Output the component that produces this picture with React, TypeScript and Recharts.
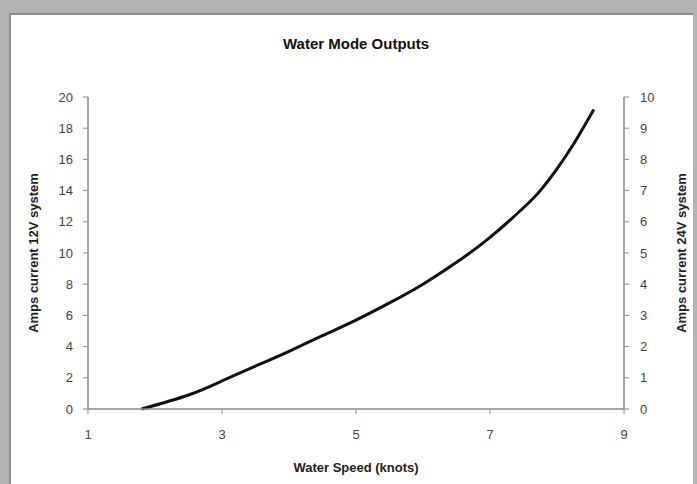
import React from 'react'
import { LineChart, Line, XAxis, YAxis } from 'recharts'

// ── Data ──────────────────────────────────────────────────────────────────────

const waterSpeed = [1.8, 2.5, 3.0, 3.5, 4.0, 4.5, 5.0, 5.5, 6.0, 6.5, 7.0, 7.5, 7.75, 8.0, 8.25, 8.55]
const amps12V = [0, 0.9, 1.8, 2.75, 3.7, 4.7, 5.7, 6.8, 8.0, 9.4, 11.0, 12.9, 14.0, 15.4, 17.0, 19.2]

const xTicks = [1, 3, 5, 7, 9]
const leftTicks = [0, 2, 4, 6, 8, 10, 12, 14, 16, 18, 20]
const rightTicks = [0, 1, 2, 3, 4, 5, 6, 7, 8, 9, 10]

const data = waterSpeed.map((speed, i) => ({ speed, amps: amps12V[i] }))

const FONT = '"Liberation Sans", Arial, sans-serif'
const AXIS = '#8a8a8a'
const TICK = { fontSize: 13, fill: '#444', fontFamily: FONT }

// ── Axis titles ───────────────────────────────────────────────────────────────

function SideTitle({ viewBox, value, posX }: { viewBox?: any; value: string; posX: number }) {
  const cy = (viewBox?.y ?? 0) + (viewBox?.height ?? 0) / 2
  return (
    <text x={posX} y={cy} transform={`rotate(-90 ${posX} ${cy})`} textAnchor="middle" dominantBaseline="central"
      style={{ fontSize: 13, fontWeight: 700, fill: '#222', fontFamily: FONT }}>
      {value}
    </text>
  )
}

function BottomTitle({ viewBox, value }: { viewBox?: any; value: string }) {
  const cx = (viewBox?.x ?? 0) + (viewBox?.width ?? 0) / 2
  return (
    <text x={cx} y={467} textAnchor="middle" dominantBaseline="central"
      style={{ fontSize: 13, fontWeight: 700, fill: '#222', fontFamily: FONT }}>
      {value}
    </text>
  )
}

// ── Component ─────────────────────────────────────────────────────────────────

export default function App() {
  return (
    <div style={{ position: 'absolute', left: 0, top: 0, width: 697, height: 484, background: '#b3b3b3', overflow: 'hidden', fontFamily: FONT }}>
      <div style={{ position: 'absolute', left: 9, top: 13, width: 682, height: 480, background: '#fff', borderLeft: '2px solid #8c8c8c', borderTop: '2px solid #8c8c8c' }} />
      <div style={{ position: 'absolute', left: 256, top: 35, width: 200, textAlign: 'center', fontSize: 15, fontWeight: 700, color: '#111' }}>
        Water Mode Outputs
      </div>
      <LineChart width={697} height={484} data={data} margin={{ top: 97, right: 23, bottom: 25, left: 28 }}
        style={{ position: 'absolute', left: 0, top: 0 }}>
        <XAxis dataKey="speed" type="number" domain={[1, 9]} ticks={xTicks} allowDataOverflow
          tickSize={5} tickMargin={16} tick={TICK} height={50}
          axisLine={{ stroke: AXIS, strokeWidth: 1.5 }} tickLine={{ stroke: AXIS }}
          label={<BottomTitle value="Water Speed (knots)" />} />
        <YAxis yAxisId="left" type="number" domain={[0, 20]} ticks={leftTicks} interval={0}
          tickSize={5} tickMargin={10} tick={TICK} width={60}
          axisLine={{ stroke: AXIS, strokeWidth: 1.5 }} tickLine={{ stroke: AXIS }}
          label={<SideTitle value="Amps current 12V system" posX={33} />} />
        <YAxis yAxisId="right" orientation="right" type="number" domain={[0, 10]} ticks={rightTicks} interval={0}
          allowDataOverflow tickSize={5} tickMargin={11} tick={TICK} width={50}
          axisLine={{ stroke: AXIS, strokeWidth: 1.5 }} tickLine={{ stroke: AXIS }}
          label={<SideTitle value="Amps current 24V system" posX={681} />} />
        <Line yAxisId="left" dataKey="amps" type="natural" stroke="#111" strokeWidth={3}
          dot={false} isAnimationActive={false} />
      </LineChart>
    </div>
  )
}
